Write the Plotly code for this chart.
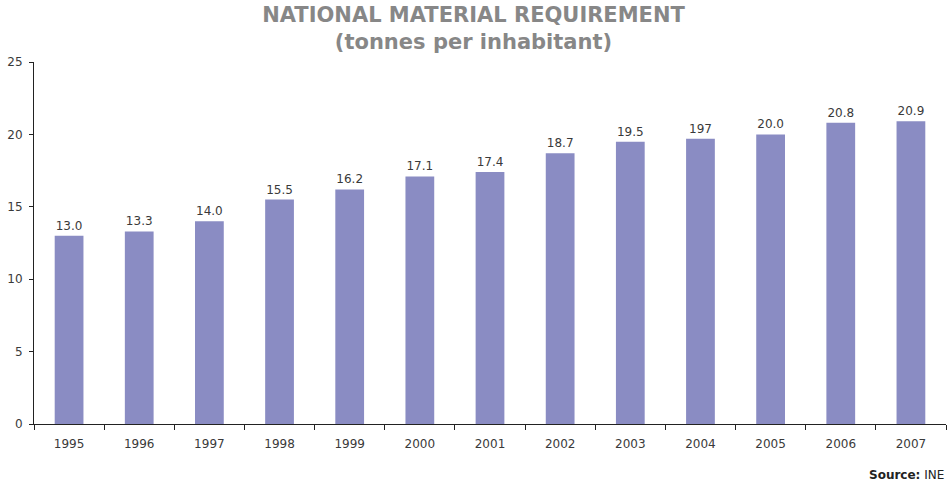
import plotly.graph_objects as go

years = ["1995", "1996", "1997", "1998", "1999", "2000", "2001",
         "2002", "2003", "2004", "2005", "2006", "2007"]
values = [13.0, 13.3, 14.0, 15.5, 16.2, 17.1, 17.4, 18.7, 19.5, 19.7, 20.0, 20.8, 20.9]
labels = ["13.0", "13.3", "14.0", "15.5", "16.2", "17.1", "17.4",
          "18.7", "19.5", "197", "20.0", "20.8", "20.9"]

fig = go.Figure()

fig.add_trace(go.Bar(x=years,
                     y=values,
                     text=labels,
                     textposition="outside",
                     cliponaxis=False,
                     textfont=dict(size=12, color="#3a3a3a"),
                     marker=dict(color="#8a8cc3", line=dict(width=0)),
                     hoverinfo="none"))

fig.add_annotation(text="<b>Source:</b> INE", xref="paper", yref="paper",
                   x=1, y=-0.14, xanchor="right", yanchor="middle",
                   showarrow=False, font=dict(size=12, color="#222222"))

fig.update_layout(width=947, height=483,
                  margin=dict(l=34, r=1, t=62, b=59),
                  font=dict(family="DejaVu Sans", size=12, color="#3a3a3a"),
                  title=dict(text="<b>NATIONAL MATERIAL REQUIREMENT<br>(tonnes per inhabitant)</b>",
                             x=0.5, xanchor="center", y=0.955, yanchor="top",
                             font=dict(size=21, color="#878787")),
                  bargap=0.59,
                  showlegend=False,
                  plot_bgcolor="white",
                  paper_bgcolor="white",
                  xaxis=dict(showline=True, linecolor="#222222", linewidth=1,
                             ticks="outside", tickson="boundaries", ticklen=5,
                             tickcolor="#222222", showgrid=False,
                             automargin=False, ticklabelstandoff=9),
                  yaxis=dict(range=[0, 25], dtick=5, showline=True,
                             linecolor="#222222", linewidth=1, ticks="outside",
                             ticklen=4, tickcolor="#222222", showgrid=False,
                             zeroline=False, automargin=False,
                             ticklabelstandoff=4))

# page body has a default 8px margin; drop it so the figure fills the window
fig.write_html("out.html", config={"displayModeBar": False},
               post_script="document.body.style.margin='0';")
